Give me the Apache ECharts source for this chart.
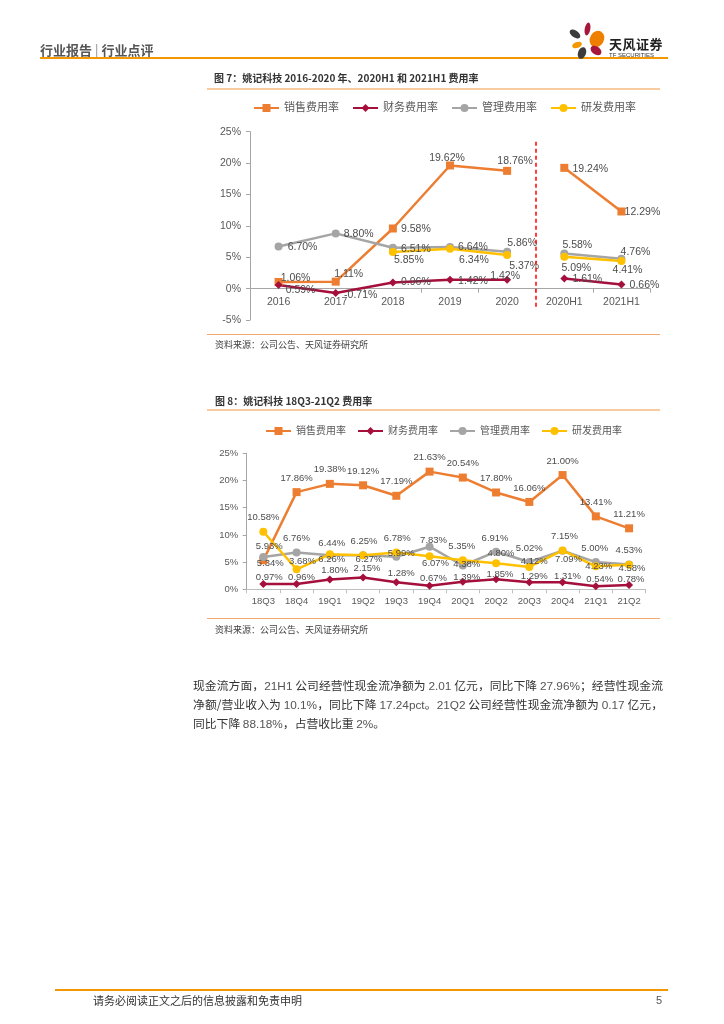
<!DOCTYPE html>
<html><head><meta charset="utf-8">
<script src="https://cdn.jsdelivr.net/npm/echarts@6/dist/echarts.min.js"></script>
<style>
body{margin:0;background:#fff;}
#page{position:relative;width:724px;height:1024px;overflow:hidden;background:#fff;font-family:"Noto Sans CJK SC","Liberation Sans",sans-serif;color:#333;}
#chart{position:absolute;left:0;top:0;width:724px;height:1024px;}
.t{position:absolute;white-space:nowrap;line-height:1;}
.hr{position:absolute;height:0;}
.para{position:absolute;left:193px;width:470px;font-size:11.8px;line-height:1;color:#333;}
.para div{position:absolute;left:0;width:470px;white-space:nowrap;}
.j{text-align:justify;text-align-last:justify;}
.num{color:#555;font-family:"Liberation Sans",sans-serif;}
</style></head>
<body>
<div id="page">
  <div id="chart"></div>
  <div class="t" style="left:40px;top:43px;font-size:13px;font-weight:bold;color:#555;">行业报告 <span style="font-weight:normal;color:#888">|</span> 行业点评</div>
  <div class="hr" style="left:40px;top:57px;width:628px;border-top:2px solid #F39800;"></div>
  <svg style="position:absolute;left:0;top:0" width="724" height="70">
    <ellipse cx="575" cy="34" rx="6" ry="3.5" fill="#3C3C3C" transform="rotate(35 575 34)"/>
    <ellipse cx="587.5" cy="29" rx="2.8" ry="6.5" fill="#A6173B" transform="rotate(10 587.5 29)"/>
    <ellipse cx="597" cy="39" rx="7" ry="8.5" fill="#EE7F00" transform="rotate(30 597 39)"/>
    <ellipse cx="577" cy="45" rx="5" ry="3" fill="#F39800" transform="rotate(-20 577 45)"/>
    <ellipse cx="582" cy="53" rx="4" ry="6" fill="#3C3C3C" transform="rotate(20 582 53)"/>
    <ellipse cx="596" cy="50.5" rx="6" ry="4" fill="#A6173B" transform="rotate(35 596 50.5)"/>
  </svg>
  <div class="t" style="left:609px;top:37px;font-size:13px;font-weight:bold;color:#222;letter-spacing:0.5px;">天风证券</div>
  <div class="t" style="left:609px;top:51.5px;font-size:6px;color:#333;font-family:'Liberation Sans',sans-serif;">TF SECURITIES</div>

  <div class="t" style="left:214px;top:73px;font-size:10px;font-weight:bold;color:#333;">图 7：姚记科技 2016-2020 年、2020H1 和 2021H1 费用率</div>
  <div class="hr" style="left:207px;top:87.5px;width:453px;border-top:2px solid #F9CBA0;"></div>
  <div class="hr" style="left:207px;top:334px;width:453px;border-top:1.5px solid #F3A96E;"></div>
  <div class="t" style="left:215px;top:339.5px;font-size:9px;color:#404040;">资料来源：公司公告、天风证券研究所</div>

  <div class="t" style="left:215px;top:395.5px;font-size:10px;font-weight:bold;color:#333;">图 8：姚记科技 18Q3-21Q2 费用率</div>
  <div class="hr" style="left:207px;top:408.5px;width:453px;border-top:2px solid #F9CBA0;"></div>
  <div class="hr" style="left:207px;top:618px;width:453px;border-top:1.5px solid #F3A96E;"></div>
  <div class="t" style="left:215px;top:625px;font-size:9px;color:#404040;">资料来源：公司公告、天风证券研究所</div>

  <div class="para" style="top:0">
    <div class="j" style="top:679px;">现金流方面，<span class="num">21H1</span> 公司经营性现金流净额为 <span class="num">2.01</span> 亿元，同比下降 <span class="num">27.96%</span>；经营性现金流</div>
    <div class="j" style="top:698px;">净额/营业收入为 <span class="num">10.1%</span>，同比下降 <span class="num">17.24pct</span>。<span class="num">21Q2</span> 公司经营性现金流净额为 <span class="num">0.17</span> 亿元，</div>
    <div style="top:717px;">同比下降 <span class="num">88.18%</span>，占营收比重 <span class="num">2%</span>。</div>
  </div>

  <div class="hr" style="left:55px;top:989px;width:613px;border-top:2px solid #F39800;"></div>
  <div class="t" style="left:93px;top:994.5px;font-size:11px;color:#333;">请务必阅读正文之后的信息披露和免责申明</div>
  <div class="t" style="left:656px;top:994.5px;font-size:11px;color:#555;font-family:'Liberation Sans',sans-serif;">5</div>
</div>
<script>
// ---------- Data: figure 7 ----------
const names = ['销售费用率', '财务费用率', '管理费用率', '研发费用率'];
const cats1 = ['2016', '2017', '2018', '2019', '2020', '2020H1', '2021H1'];
const sales1 = [1.06, 1.11, 9.58, 19.62, 18.76, 19.24, 12.29];
const fin1 = [0.59, -0.71, 0.96, 1.42, 1.42, 1.61, 0.66];
const adm1 = [6.70, 8.80, 6.51, 6.64, 5.86, 5.58, 4.76];
const rd1 = [null, null, 5.85, 6.34, 5.37, 5.09, 4.41];
const halfStart1 = 5;          // index where half-year categories begin
const yMin1 = -5, yMax1 = 25, yStep1 = 5;

// ---------- Data: figure 8 ----------
const cats2 = ['18Q3', '18Q4', '19Q1', '19Q2', '19Q3', '19Q4', '20Q1', '20Q2', '20Q3', '20Q4', '21Q1', '21Q2'];
const sales2 = [5.34, 17.86, 19.38, 19.12, 17.19, 21.63, 20.54, 17.80, 16.06, 21.00, 13.41, 11.21];
const fin2 = [0.97, 0.96, 1.80, 2.15, 1.28, 0.67, 1.39, 1.85, 1.29, 1.31, 0.54, 0.78];
const adm2 = [5.93, 6.76, 6.26, 6.27, 5.99, 7.83, 4.38, 6.91, 5.02, 7.09, 5.00, 4.58];
const rd2 = [10.58, 3.68, 6.44, 6.25, 6.78, 6.07, 5.35, 4.80, 4.12, 7.15, 4.23, 4.53];
const yMin2 = 0, yMax2 = 25, yStep2 = 5;

// ---------- Styles (label offsets, markers, colours) ----------
const styles = [
  { color: '#ED7D31', symbol: 'rect', size: 8 },
  { color: '#A50F3C', symbol: 'diamond', size: 8 },
  { color: '#A5A5A5', symbol: 'circle', size: 8 },
  { color: '#FFC000', symbol: 'circle', size: 8 }
];
const off1 = [
  [[17,-4],[13,-8],[23,1],[-3,-7],[8,-10],[26,1],[21,1]],
  [[22,5],[25,2],[23,0],[23,1],[-2,-4],[23,1],[23,1]],
  [[24,1],[23,1],[23,1],[23,0],[15,-9],[13,-8],[14,-7]],
  [null,null,[16,8],[24,11],[17,11],[12,11],[6,9]]
];
const T = [0,-14];
const off2 = [
  [[7,3],T,T,T,T,T,T,T,T,T,T,T],
  [[6,-7],[5,-7],[5,-9],[4,-9],[5,-9],[4,-7],[4,-4],[4,-5],[5,-6],[5,-6],[4,-7],[2,-6]],
  [[6,-11],[0,-14],[2,4],[6,4],[5,-3],[4,-6],[4,-1],[-1,-13],[0,-14],[6,9],[-1,-14],[3,4]],
  [[0,-14],[6,-8],[2,-11],[1,-14],[1,-14],[6,7],[-1,-14],[5,-10],[5,-6],[2,-14],[3,0],[0,-14]]
];

const lblColor = '#4D4D4D';
const axisColor = '#A6A6A6';
const fontFam = '"Liberation Sans","Noto Sans CJK SC",sans-serif';

function lineSeries(k, vals, offs, xIdx, yIdx, keep, fontSize) {
  const st = styles[k];
  return {
    type: 'line', name: names[k], xAxisIndex: xIdx, yAxisIndex: yIdx,
    data: vals.map((v, i) => (v == null || !keep(i)) ? '-' : { value: v, label: { offset: offs[i] || [0, 0] } }),
    symbol: st.symbol, symbolSize: st.size, showAllSymbol: true, connectNulls: false,
    lineStyle: { color: st.color, width: 2.5 },
    itemStyle: { color: st.color, borderWidth: 0 },
    label: {
      show: true, position: 'inside', color: lblColor, fontSize: fontSize, fontFamily: fontFam,
      formatter: p => Number(p.value).toFixed(2) + '%'
    },
    emphasis: { disabled: true },
    animation: false
  };
}

const series = [];
const vals1 = [sales1, fin1, adm1, rd1];
const vals2 = [sales2, fin2, adm2, rd2];
for (let k = 0; k < 4; k++) {
  series.push(lineSeries(k, vals1[k], off1[k], 0, 0, i => i < halfStart1, 10.5));
  series.push(lineSeries(k, vals1[k], off1[k], 0, 0, i => i >= halfStart1, 10.5));
}
for (let k = 0; k < 4; k++) {
  series.push(lineSeries(k, vals2[k], off2[k], 2, 1, () => true, 9.5));
}
// dashed separator between annual and half-year categories (on a hidden value axis)
series.push({
  type: 'line', xAxisIndex: 1, yAxisIndex: 0, data: [], silent: true,
  markLine: {
    silent: true, symbol: 'none', animation: false,
    label: { show: false },
    lineStyle: { color: '#FF0000', type: [4, 3], width: 1.5 },
    data: [[{ coord: [halfStart1, 23.4] }, { coord: [halfStart1, -3.2] }]]
  }
});

const chart = echarts.init(document.getElementById('chart'), null, { renderer: 'canvas' });
chart.setOption({
  animation: false,
  backgroundColor: 'transparent',
  textStyle: { fontFamily: fontFam },
  legend: [
    {
      data: names, left: 253, top: 101, padding: 0, itemWidth: 25, itemHeight: 10, itemGap: 13,
      textStyle: { fontSize: 11, color: '#595959', fontFamily: fontFam, lineHeight: 14 },
      selectedMode: false
    },
    {
      data: names, left: 265, top: 424.5, padding: 0, itemWidth: 25, itemHeight: 10, itemGap: 11,
      textStyle: { fontSize: 10, color: '#595959', fontFamily: fontFam, lineHeight: 13 },
      selectedMode: false
    }
  ],
  grid: [
    { left: 250, top: 131.7, width: 400, height: 188.3, outerBoundsMode: 'none' },
    { left: 246.7, top: 453.3, width: 399, height: 136, outerBoundsMode: 'none' }
  ],
  xAxis: [
    {
      type: 'category', gridIndex: 0, data: cats1, boundaryGap: true,
      axisLine: { show: true, onZero: true, lineStyle: { color: axisColor, width: 1 } },
      axisTick: { show: true, length: 4, lineStyle: { color: axisColor } },
      axisLabel: { color: '#595959', fontSize: 10.5, margin: -23, interval: 0 },
      splitLine: { show: false }
    },
    { type: 'value', gridIndex: 0, min: 0, max: cats1.length, show: false },
    {
      type: 'category', gridIndex: 1, data: cats2, boundaryGap: true,
      axisLine: { show: true, lineStyle: { color: '#BFBFBF', width: 1 } },
      axisTick: { show: true, length: 4, lineStyle: { color: '#BFBFBF' } },
      axisLabel: { color: '#595959', fontSize: 9.5, margin: 7.5, interval: 0 },
      splitLine: { show: false }
    }
  ],
  yAxis: [
    {
      type: 'value', gridIndex: 0, min: yMin1, max: yMax1, interval: yStep1,
      axisLine: { show: true, lineStyle: { color: axisColor } },
      axisTick: { show: true, length: 4, lineStyle: { color: axisColor } },
      axisLabel: { color: '#595959', fontSize: 10.5, margin: 9, formatter: '{value}%' },
      splitLine: { show: false }
    },
    {
      type: 'value', gridIndex: 1, min: yMin2, max: yMax2, interval: yStep2,
      axisLine: { show: true, lineStyle: { color: axisColor } },
      axisTick: { show: true, length: 4, lineStyle: { color: axisColor } },
      axisLabel: { color: '#595959', fontSize: 9.5, margin: 8.5, formatter: '{value}%' },
      splitLine: { show: false }
    }
  ],
  series: series
});
</script>
</body></html>
